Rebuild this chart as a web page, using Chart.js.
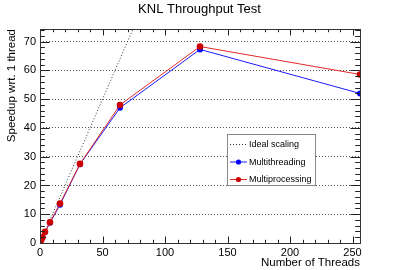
<!DOCTYPE html>
<html>
<head>
<meta charset="utf-8">
<script src="https://cdn.jsdelivr.net/npm/chart.js@4/dist/chart.umd.min.js"></script>
<style>
html,body{margin:0;padding:0;background:#fff;}
#wrap{width:399px;height:270px;position:relative;}
</style>
</head>
<body>
<div id="wrap"><canvas id="c" width="399" height="270"></canvas></div>
<script>
const threads = [1, 2, 4, 8, 16, 32, 64, 128, 256];
const multithreading = [1, 1.9, 3.8, 7.0, 13.3, 27.4, 47.0, 67.3, 52.0];
const multiprocessing = [1, 2.0, 3.9, 7.2, 13.7, 27.5, 48.0, 68.3, 58.6];
const idealThreads = [0, 1, 2, 4, 8, 16, 32, 64, 128, 256];
const xTickLabels = [0, 50, 100, 150, 200, 250];
const yTickLabels = [0, 10, 20, 30, 40, 50, 60, 70];
const seriesNames = ['Ideal scaling', 'Multithreading', 'Multiprocessing'];

const FONT = '"Liberation Sans", Arial, Helvetica, sans-serif';
Chart.defaults.font.family = FONT;
Chart.defaults.color = '#000';

const pts = (xs, ys) => xs.map((x, i) => ({x: x, y: ys[i]}));

const framePlugin = {
  id: 'rootFrame',
  afterDraw(chart) {
    const {ctx, chartArea: a, scales: {x, y}} = chart;
    ctx.save();
    ctx.strokeStyle = '#222';
    ctx.lineWidth = 1;
    ctx.beginPath();
    for (let v = 0; v <= 256; v += 10) {
      const px = Math.round(x.getPixelForValue(v)) + 0.5;
      const len = (v % 50 === 0) ? 6.5 : 3.2;
      ctx.moveTo(px, a.bottom); ctx.lineTo(px, a.bottom - len);
      ctx.moveTo(px, a.top); ctx.lineTo(px, a.top + len);
    }
    for (let v = 0; v <= 74; v += 2) {
      const py = Math.round(y.getPixelForValue(v)) + 0.5;
      const len = (v % 10 === 0) ? 9.6 : 4.8;
      ctx.moveTo(a.left, py); ctx.lineTo(a.left + len, py);
      ctx.moveTo(a.right, py); ctx.lineTo(a.right - len, py);
    }
    ctx.stroke();
    ctx.strokeStyle = '#333';
    ctx.strokeRect(Math.round(a.left) + 0.5, Math.round(a.top) + 0.5,
                   Math.round(a.right - a.left), Math.round(a.bottom - a.top));

    // legend
    const bx = 227.5, by = 134.5, bw = 88, bh = 51;
    ctx.fillStyle = '#fff';
    ctx.fillRect(bx, by, bw, bh);
    ctx.strokeStyle = '#888';
    ctx.strokeRect(bx, by, bw, bh);
    const rows = [144, 161.5, 179];
    chart.data.datasets.forEach((ds, i) => {
      const yy = rows[i];
      ctx.save();
      ctx.strokeStyle = ds.borderColor;
      ctx.lineWidth = 1;
      if (ds.borderDash) ctx.setLineDash(ds.borderDash);
      ctx.beginPath();
      ctx.moveTo(230, yy + 0.5); ctx.lineTo(247, yy + 0.5);
      ctx.stroke();
      ctx.restore();
      if (ds.pointRadius > 0) {
        ctx.fillStyle = ds.pointBackgroundColor;
        ctx.beginPath();
        ctx.arc(238.5, yy + 0.5, 2.6, 0, Math.PI * 2);
        ctx.fill();
      }
      ctx.fillStyle = '#000';
      ctx.font = '9px ' + FONT;
      ctx.textBaseline = 'middle';
      ctx.textAlign = 'left';
      ctx.fillText(ds.label, 249, yy + 1);
    });
    ctx.restore();
  }
};

new Chart(document.getElementById('c'), {
  type: 'line',
  data: {
    datasets: [
      {
        label: seriesNames[0],
        data: pts(idealThreads, idealThreads),
        borderColor: '#333',
        borderWidth: 1,
        borderDash: [1, 2],
        pointRadius: 0,
        fill: false,
        order: 2
      },
      {
        label: seriesNames[1],
        data: pts(threads, multithreading),
        borderColor: '#1a1aff',
        borderWidth: 1,
        pointRadius: 3,
        pointBackgroundColor: '#0000ff',
        pointBorderWidth: 0,
        pointBorderColor: '#0000ff',
        fill: false,
        order: 1
      },
      {
        label: seriesNames[2],
        data: pts(threads, multiprocessing),
        borderColor: '#e52828',
        borderWidth: 1,
        pointRadius: 3.3,
        pointBackgroundColor: '#cc0000',
        pointBorderWidth: 0,
        pointBorderColor: '#cc0000',
        fill: false,
        order: 0
      }
    ]
  },
  options: {
    responsive: false,
    animation: false,
    devicePixelRatio: 1,
    layout: {padding: {left: 0, right: 0, top: 0, bottom: 0}},
    plugins: {
      legend: {display: false},
      tooltip: {enabled: false},
      title: {
        display: true,
        text: 'KNL Throughput Test',
        font: {size: 13, weight: 'normal', family: FONT},
        color: '#000',
        padding: {top: 2, bottom: 11.4}
      }
    },
    scales: {
      x: {
        type: 'linear',
        min: 0,
        max: 256,
        afterFit(s) { s.height = 27; },
        afterBuildTicks(s) { s.ticks = xTickLabels.map(v => ({value: v})); },
        grid: {display: false, drawTicks: false},
        border: {display: false},
        ticks: {
          padding: 3,
          maxRotation: 0,
          autoSkip: false,
          font: {size: 11},
          color: '#000'
        },
        title: {
          display: true,
          text: 'Number of Threads',
          align: 'end',
          font: {size: 11.5},
          color: '#000',
          padding: {top: 0, bottom: 0}
        }
      },
      y: {
        type: 'linear',
        min: 0,
        max: 74.4,
        afterFit(s) { s.width = 40; },
        afterBuildTicks(s) { s.ticks = yTickLabels.map(v => ({value: v})); },
        grid: {
          display: true,
          drawTicks: false,
          color: '#555',
          lineWidth: 1
        },
        border: {display: false, dash: [1, 2]},
        ticks: {
          padding: 4,
          autoSkip: false,
          font: {size: 11},
          color: '#000'
        },
        title: {
          display: true,
          text: 'Speedup wrt. 1 thread',
          align: 'end',
          font: {size: 11.5},
          color: '#000',
          padding: {top: 5, bottom: 0}
        }
      },
      yRight: {
        type: 'linear',
        position: 'right',
        min: 0,
        max: 74.4,
        afterFit(s) { s.width = 39; },
        grid: {display: false, drawTicks: false},
        border: {display: false},
        ticks: {display: false}
      }
    }
  },
  plugins: [framePlugin]
});
</script>
</body>
</html>
